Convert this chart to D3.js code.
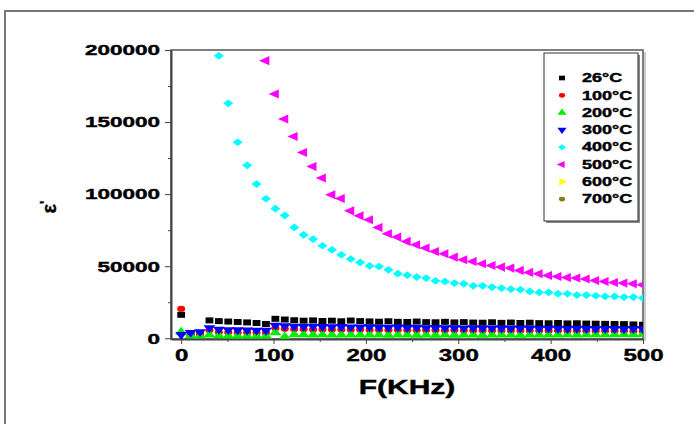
<!DOCTYPE html>
<html>
<head>
<meta charset="utf-8">
<script src="https://cdn.jsdelivr.net/npm/d3@7"></script>
<style>
  body { margin: 0; background: #fff; }
  svg text { font-family: "Liberation Sans", Arial, sans-serif; font-weight: bold; stroke: #000; stroke-width: 0.4px; }
</style>
</head>
<body>
<svg width="694" height="424"></svg>
<script>
// frequency in kHz
var freq = [0, 10.2, 20.4, 30.6, 40.8, 51, 61.2, 71.4, 81.6, 91.8, 102, 112.2, 122.4, 132.6, 142.8,
    153, 163.2, 173.4, 183.6, 193.8, 204, 214.2, 224.4, 234.6, 244.8, 255, 265.2, 275.4, 285.6, 295.8,
    306, 316.2, 326.4, 336.6, 346.8, 357, 367.2, 377.4, 387.6, 397.8, 408, 418.2, 428.4, 438.6, 448.8,
    459, 469.2, 479.4, 489.6, 499.8];

var t26 = [16300, 3000, 2800, 12400, 11900, 11600, 11300, 11000, 10600, 9900, 13500, 13000, 12500, 12200, 12400,
    12000, 12200, 11800, 12300, 11900, 11700, 11500, 11800, 11400, 11300, 11600, 11200, 11100, 11400, 11000,
    11200, 10900, 10800, 11100, 10700, 10900, 10600, 10800, 10500, 10400, 10600, 10300, 10400, 10200, 10100,
    10000, 9900, 9800, 9600, 9400];
var t100 = [20500, 2800, 2400, 5500, 4200, 4000, 3900, 3800, 3800, 3700, 7000, 6600, 6300, 6200, 6000,
    6100, 5900, 6000, 5800, 5900, 5700, 5800, 5600, 5700, 5600, 5500, 5600, 5500, 5400, 5500,
    5400, 5300, 5400, 5300, 5300, 5200, 5300, 5200, 5200, 5100, 5200, 5100, 5100, 5000, 5100,
    5000, 5000, 5000, 4900, 4900];
var t200 = [4300, 1800, 1600, 2400, 1800, 1700, 1700, 1600, 1600, 1600, 4000, 1000, 2600, 2500, 2400,
    2500, 2400, 2300, 2400, 2300, 2400, 2300, 2200, 2400, 2300, 2200, 2300, 2200, 2300, 2200,
    2400, 2300, 2200, 2300, 2400, 2300, 2200, 2300, 2400, 2300, 2400, 2500, 2400, 2500, 2600,
    2500, 2600, 2700, 2600, 2700];
var t300 = [2500, 4000, 4500, 7300, 6200, 5900, 5800, 5600, 5500, 5400, 9000, 8600, 8300, 8100, 8200,
    8000, 7900, 8000, 7800, 7700, 7900, 7600, 7500, 7700, 7400, 7500, 7300, 7400, 7200, 7300,
    7100, 7200, 7000, 7100, 7000, 6900, 7000, 6900, 6800, 6900, 6800, 6700, 6800, 6700, 6600,
    6700, 6600, 6500, 6600, 6500];
var t400 = [null, null, null, null, 196000, 163000, 136000, 120000, 107000, 96800, 89900, 85200, 76900, 71800, 68800,
    64200, 61400, 57900, 55000, 52600, 50300, 49800, 47500, 44800, 43800, 42500, 41800, 39900, 39400, 38300,
    37800, 36400, 36400, 35500, 34800, 34100, 33700, 32500, 31800, 31800, 30900, 30900, 30000, 30000, 29500,
    29000, 29000, 28600, 28600, 27900];
var t500 = [null, null, null, null, null, null, null, null, null, 192600, 169500, 152100, 140000, 128900, 119200,
    111200, 99600, 97000, 88400, 85000, 82200, 76900, 72500, 70200, 67200, 64900, 62600, 60200, 58600, 56300,
    54500, 53300, 51700, 50500, 49400, 48700, 47100, 45700, 44800, 43600, 42900, 42200, 41800, 41100, 40100,
    39400, 38700, 38300, 37800, 37100];
// 600 and 700 C are not visible in the plot
var t600 = [];
var t700 = [];

var labels = ["26°C", "100°C", "200°C", "300°C", "400°C", "500°C", "600°C", "700°C"];
var colors = ["#000000", "#ff0000", "#00ee00", "#0000ff", "#00ffff", "#ff00ff", "#ffff00", "#808000"];
var xTicks = [0, 100, 200, 300, 400, 500];
var yTicks = [0, 50000, 100000, 150000, 200000];

var series = [t26, t100, t200, t300, t400, t500, t600, t700];
var shapes = [
    { type: d3.symbolSquare, rot: 0, size: 36 },
    { type: d3.symbolCircle, rot: 0, size: 30 },
    { type: d3.symbolTriangle, rot: 0, size: 36 },
    { type: d3.symbolTriangle, rot: 180, size: 36 },
    { type: d3.symbolDiamond2, rot: 0, size: 38 },
    { type: d3.symbolTriangle, rot: -90, size: 36 },
    { type: d3.symbolTriangle, rot: 90, size: 36 },
    { type: d3.symbolCircle, rot: 0, size: 30 }
];

var svg = d3.select("svg");
var stretch = 1.5;  // the picture is wider than tall

function widen(sel) {
    sel.each(function () {
        var w = this.getComputedTextLength();
        d3.select(this).attr("textLength", w * stretch).attr("lengthAdjust", "spacingAndGlyphs");
    });
}

var x = d3.scaleLinear().domain([-11, 500]).range([171, 643]);
var y = d3.scaleLinear().domain([-500, 200000]).range([339, 50]);

// outer frame
svg.append("path")
    .attr("d", "M5,424V11H694")
    .attr("fill", "none")
    .attr("stroke", "#777")
    .attr("stroke-width", 2);

svg.append("clipPath").attr("id", "clip")
  .append("rect")
    .attr("x", 171).attr("y", 50)
    .attr("width", 472).attr("height", 289);

// plot box
svg.append("rect")
    .attr("x", 171).attr("y", 50)
    .attr("width", 472).attr("height", 289)
    .attr("fill", "none")
    .attr("stroke", "#555")
    .attr("stroke-width", 1.5);
svg.append("path")
    .attr("d", "M645,52V341")
    .attr("stroke", "#999")
    .attr("stroke-width", 1);

// minor ticks
svg.append("g")
    .attr("transform", "translate(171,0)")
    .call(d3.axisLeft(y).tickValues([25000, 75000, 125000, 175000]).tickSize(3).tickFormat(""))
    .call(function (g) { g.select(".domain").remove(); g.selectAll("line").attr("stroke", "#444"); });
svg.append("g")
    .attr("transform", "translate(0,339)")
    .call(d3.axisBottom(x).tickValues([50, 150, 250, 350, 450]).tickSize(3).tickFormat(""))
    .call(function (g) { g.select(".domain").remove(); g.selectAll("line").attr("stroke", "#444"); });

var yAxis = svg.append("g")
    .attr("transform", "translate(171,0)")
    .call(d3.axisLeft(y).tickValues(yTicks).tickFormat(d3.format("d")).tickSize(6).tickPadding(5).tickSizeOuter(0));
yAxis.select(".domain").attr("stroke", "#444").attr("stroke-width", 2);
yAxis.selectAll("line").attr("stroke", "#444");
yAxis.selectAll("text").attr("font-size", 15).attr("fill", "#000").call(widen);

var xAxis = svg.append("g")
    .attr("transform", "translate(0,339)")
    .call(d3.axisBottom(x).tickValues(xTicks).tickFormat(d3.format("d")).tickSize(5).tickPadding(6).tickSizeOuter(0));
xAxis.select(".domain").attr("stroke", "#444").attr("stroke-width", 2);
xAxis.selectAll("line").attr("stroke", "#444");
xAxis.selectAll("text").attr("font-size", 16).attr("fill", "#000").call(widen);

svg.append("text")
    .attr("x", 407)
    .attr("y", 394)
    .attr("text-anchor", "middle")
    .attr("font-size", 20)
    .text("F(KHz)")
    .call(widen);

var yt = svg.append("text")
    .attr("transform", "translate(56,207) rotate(-90)")
    .attr("text-anchor", "middle")
    .attr("font-size", 20);
yt.append("tspan").text("ε");
yt.append("tspan").attr("dy", -6).attr("font-size", 14).text("'");

// points
var plot = svg.append("g").attr("clip-path", "url(#clip)");
series.forEach(function (vals, i) {
    var sym = d3.symbol().type(shapes[i].type).size(shapes[i].size);
    var pts = vals.map(function (v, k) { return { f: freq[k], v: v }; })
        .filter(function (d) { return d.v != null; });
    plot.append("g")
      .selectAll("path")
      .data(pts)
      .enter().append("path")
        .attr("d", sym)
        .attr("transform", function (d) {
            return "translate(" + x(d.f) + "," + y(d.v) + ") scale(1.3,1) rotate(" + shapes[i].rot + ")";
        })
        .attr("fill", colors[i]);
});

// legend
svg.append("rect")
    .attr("x", 546).attr("y", 55)
    .attr("width", 94).attr("height", 168)
    .attr("fill", "#888");
svg.append("rect")
    .attr("x", 544).attr("y", 53)
    .attr("width", 94).attr("height", 168)
    .attr("fill", "#fff")
    .attr("stroke", "#333")
    .attr("stroke-width", 1);

var legend = svg.append("g")
  .selectAll("g")
  .data(labels)
  .enter().append("g")
    .attr("transform", function (d, i) { return "translate(0," + (78 + i * 17.3) + ")"; });

legend.append("path")
    .attr("d", function (d, i) { return d3.symbol().type(shapes[i].type).size(shapes[i].size * 0.6)(); })
    .attr("transform", function (d, i) { return "translate(562,0) scale(1.3,1) rotate(" + shapes[i].rot + ")"; })
    .attr("fill", function (d, i) { return colors[i]; });

legend.append("text")
    .attr("x", 582)
    .attr("dy", "0.35em")
    .attr("font-size", 12)
    .text(function (d) { return d; })
    .call(widen);
</script>
</body>
</html>
